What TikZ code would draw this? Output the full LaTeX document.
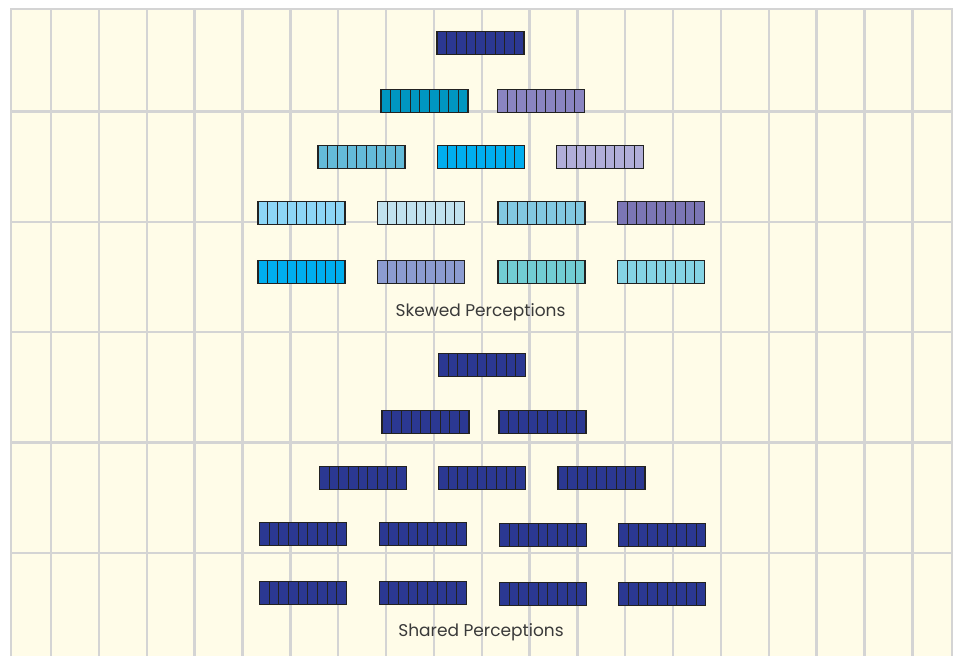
\documentclass[tikz,border=0pt]{standalone}
\usepackage{fontspec}
\newfontfamily\labfont{Poppins}
\definecolor{bg}{HTML}{FFFCE8}
\definecolor{gridc}{HTML}{D4D4D4}
\definecolor{edge}{HTML}{222222}
\definecolor{navy}{HTML}{2B3892}
\definecolor{cA}{HTML}{0096C2}
\definecolor{cB}{HTML}{8A85C2}
\definecolor{cC}{HTML}{64BBD9}
\definecolor{cD}{HTML}{00AEEF}
\definecolor{cE}{HTML}{B1AED8}
\definecolor{cF}{HTML}{8DD6F6}
\definecolor{cG}{HTML}{C1E2EE}
\definecolor{cH}{HTML}{82C8E1}
\definecolor{cI}{HTML}{7B76B5}
\definecolor{cJ}{HTML}{8C9CD1}
\definecolor{cK}{HTML}{72CDD3}
\definecolor{cL}{HTML}{85D3E4}
\definecolor{txt}{HTML}{3A3A3A}
\tikzset{
  blk/.style={draw=edge, line width=1.1pt, minimum width=87pt, minimum height=23pt,
    inner sep=0pt, outer sep=0pt, fill=#1,
    path picture={\foreach \i in {1,...,8}{
      \draw[edge, line width=0.8pt] ([xshift=\i*9.667pt]path picture bounding box.south west)
        -- ([xshift=\i*9.667pt]path picture bounding box.north west);}}},
  gridline/.style={gridc, line width=2.4pt},
  lab/.style={font=\labfont\fontsize{17}{20}\selectfont, text=txt, anchor=base, inner sep=0pt}
}
\begin{document}
\begin{tikzpicture}[x=1pt,y=-1pt]
\useasboundingbox (0,0) rectangle (961,656);
\fill[white] (0,0) rectangle (961,656);
\fill[bg] (11,9) rectangle (952,656);
% grid
\foreach \k in {0,...,18}{\draw[gridline] ({51.05+47.85*\k},9) -- ({51.05+47.85*\k},656);}
\foreach \y in {111.3,221.7,332,442.4,552.7}{\draw[gridline] (11,\y) -- (952,\y);}
\draw[gridline] (11,656) -- (11,9) -- (952,9) -- (952,656);
% skewed
\node[blk=navy] (s1) at (480.5,43.3) {};
\node[blk=cA] (s2a) at (424.5,100.8) {};
\node[blk=cB] (s2b) at (540.8,100.8) {};
\node[blk=cC] (s3a) at (361.5,156.8) {};
\node[blk=cD] (s3b) at (480.8,156.8) {};
\node[blk=cE] (s3c) at (600.2,156.8) {};
\node[blk=cF] (s4a) at (301.5,213) {};
\node[blk=cG] (s4b) at (420.8,213) {};
\node[blk=cH] (s4c) at (541.5,213) {};
\node[blk=cI] (s4d) at (661,213) {};
\node[blk=cD] (s5a) at (301.5,271.8) {};
\node[blk=cJ] (s5b) at (420.8,271.8) {};
\node[blk=cK] (s5c) at (541.5,271.8) {};
\node[blk=cL] (s5d) at (661,271.8) {};
\node[lab] (skew) at (480.5,316.5) {Skewed Perceptions};
% shared
\node[blk=navy] (h1) at (482,365) {};
\node[blk=navy] (h2a) at (425.5,422.3) {};
\node[blk=navy] (h2b) at (542.5,422.3) {};
\node[blk=navy] (h3a) at (362.8,478.3) {};
\node[blk=navy] (h3b) at (482,478.3) {};
\node[blk=navy] (h3c) at (601.5,478.3) {};
\node[blk=navy] (h4a) at (302.8,534.3) {};
\node[blk=navy] (h4b) at (422.7,534.3) {};
\node[blk=navy] (h4c) at (543,535) {};
\node[blk=navy] (h4d) at (662.2,535) {};
\node[blk=navy] (h5a) at (302.8,593) {};
\node[blk=navy] (h5b) at (422.7,593) {};
\node[blk=navy] (h5c) at (543,593.7) {};
\node[blk=navy] (h5d) at (662.2,593.7) {};
\node[lab] (shared) at (481,636) {Shared Perceptions};
\end{tikzpicture}
\end{document}
